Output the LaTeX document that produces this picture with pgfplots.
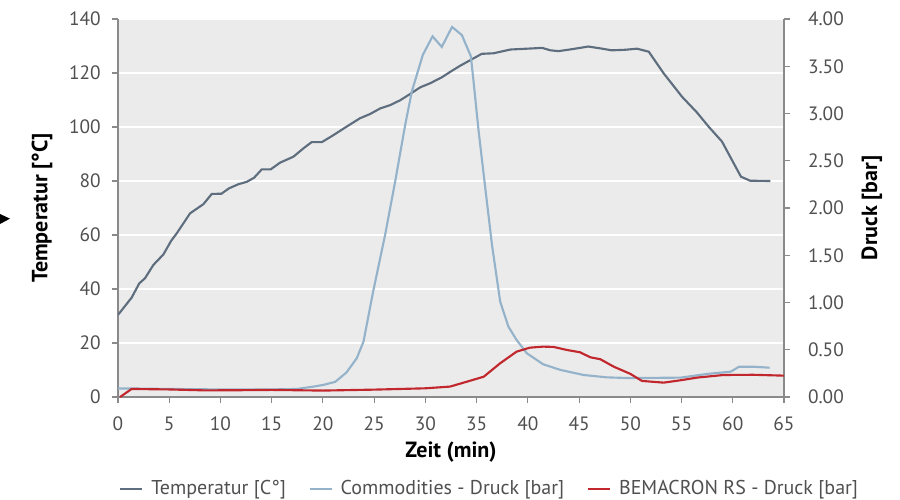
\documentclass[border=0pt]{standalone}
\usepackage{fontspec}
\setmainfont{PT Sans}
\usepackage{pgfplots}
\pgfplotsset{compat=1.18}
\definecolor{bgc}{HTML}{EBEBEB}
\definecolor{tempc}{HTML}{5F6E7E}
\definecolor{commc}{HTML}{94B3CA}
\definecolor{redc}{HTML}{C1272D}
\definecolor{axc}{HTML}{8A8A8A}
\definecolor{txtc}{HTML}{505050}

\pgfplotstableread{
x y
0 30.4
1.33 36.8
2.08 42.1
2.64 44
3.45 48.9
4.43 52.8
5.18 57.8
5.73 60.6
7.03 68
7.52 69.3
8.33 71.4
9.15 75.2
10.1 75.3
10.84 77.3
11.75 78.8
12.57 79.7
13.28 81.2
14.03 84.3
14.9 84.3
15.82 86.8
17.12 89
18.1 92.1
18.9 94.4
19.9 94.4
21.03 97
22.3 100.1
23.6 103.2
24.6 104.8
25.6 106.9
26.56 108.1
27.54 109.9
28.5 112.2
29.5 114.7
30.47 116.2
31.6 118.4
32.5 120.6
33.4 122.7
34.5 125.0
35.5 127.1
36.65 127.3
38.3 128.7
39.9 129
41.4 129.3
42.2 128.4
43 128.1
44.1 128.7
45.9 129.8
47.1 129.1
48.2 128.4
49.5 128.6
50.65 129
51.8 127.9
53.25 119.9
55.05 111.2
56.5 105.4
57.65 100.1
58.95 94.6
60.1 86.5
60.8 81.6
61.7 80.1
63.67 80
}\temptable

\pgfplotstableread{
x y
0 0.09
1.5 0.09
5 0.085
10 0.08
15 0.08
17.45 0.085
19.07 0.11
20 0.127
21.2 0.16
22.3 0.26
23.3 0.41
23.96 0.586
24.9 1.115
26.07 1.716
27.05 2.28
28.03 2.88
28.68 3.234
29.75 3.62
30.7 3.817
31.6 3.704
32.6 3.916
33.56 3.83
34.44 3.605
34.7 3.34
35.2 2.81
35.77 2.28
36.5 1.61
37.3 1.01
38.1 0.745
38.9 0.604
39.9 0.463
41.5 0.346
43.2 0.286
45.44 0.233
47.7 0.208
50 0.2
54.9 0.205
57.5 0.244
59.8 0.268
60.6 0.32
62.04 0.32
63.6 0.31
}\commtable

\pgfplotstableread{
x y
0.2 0
1.33 0.085
5 0.08
8.5 0.07
12 0.072
15 0.075
20 0.068
25 0.078
30 0.092
32.4 0.11
34.05 0.162
35.7 0.215
37.3 0.357
38.9 0.48
40.2 0.522
41.5 0.533
42.5 0.53
43.8 0.498
45.1 0.473
46.1 0.42
47.07 0.4
48.4 0.32
50 0.245
51.14 0.17
53.25 0.152
54.9 0.177
56.5 0.205
59.1 0.233
62 0.235
65 0.226
}\redtable

\pgfplotsset{
  base/.style={
    at={(88.5pt,77.25pt)}, anchor=south west,
    scale only axis, width=499.5pt, height=283.5pt,
    xmin=0, xmax=65,
    /pgf/number format/assume math mode=true,
    tick align=outside, major tick length=4.5pt,
    every tick/.style={axc, line width=0.8pt},
    axis line style={axc, line width=0.8pt},
    tick label style={font=\fontsize{14.5pt}{17pt}\selectfont, text=txtc},
    label style={font=\fontsize{16.5pt}{19pt}\selectfont\bfseries, text=black},
  }
}

\begin{document}
\begin{tikzpicture}
\useasboundingbox (0,0) rectangle (675pt,375pt);
\fill[black] (0pt,214.5pt) -- (7.5pt,211pt) -- (0pt,207pt) -- cycle;

\begin{axis}[base,
  axis background/.style={fill=bgc},
  axis x line*=bottom, axis y line*=left,
  ymin=0, ymax=140, ytick={0,20,...,140},
  xtick={0,5,...,65},
  xticklabel style={yshift=-7pt},
  yticklabel style={xshift=-5pt},
  ymajorgrids, grid style={white, line width=0.8pt},
  xlabel={Zeit (min)},
  ylabel={Temperatur [°C]},
  xlabel style={at={(axis description cs:0.5,-0.1455)}, anchor=center},
  ylabel style={at={(axis description cs:-0.114,0.5)}, anchor=center},
]
\addplot[tempc, line width=1.6pt] table {\temptable};
\end{axis}

\begin{axis}[base,
  axis x line=none, axis y line*=right,
  ymin=0, ymax=4, ytick={0,0.5,...,4},
  yticklabel style={xshift=10pt, /pgf/number format/.cd, fixed, fixed zerofill, precision=2},
  ylabel={Druck [bar]},
  ylabel style={at={(axis description cs:1.132,0.5)}, anchor=center, rotate=0},
  legend columns=3,
  legend style={at={(axis description cs:0.5586,-0.243)}, anchor=center,
    draw=none, fill=none, font=\fontsize{15pt}{18pt}\selectfont, text=txtc,
    /tikz/every odd column/.style={column sep=4pt},
    /tikz/every even column/.style={column sep=15pt},
    legend cell align=left},
  legend image code/.code={\draw[#1] (0pt,0pt) -- (16.5pt,0pt);},
]
\addlegendimage{tempc, line width=1.6pt}
\addlegendentry{Temperatur [C°]}
\addplot[commc, line width=1.6pt] table {\commtable};
\addlegendentry{Commodities - Druck [bar]}
\addplot[redc, line width=1.6pt] table {\redtable};
\addlegendentry{BEMACRON RS - Druck [bar]}
\end{axis}
\end{tikzpicture}
\end{document}
